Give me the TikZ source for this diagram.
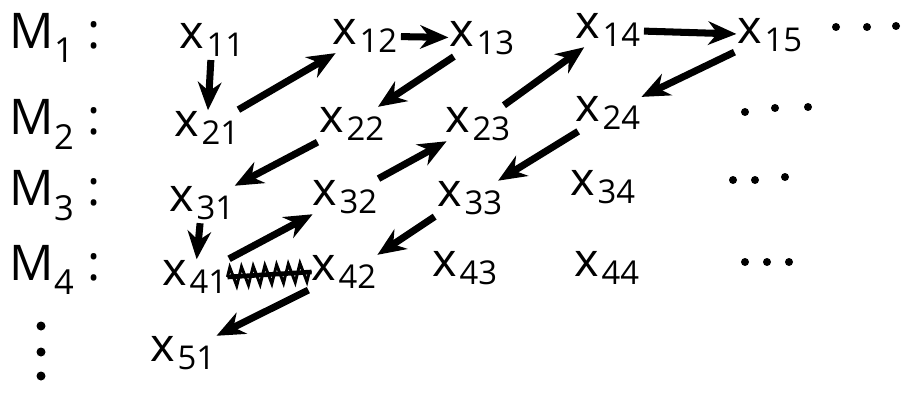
\documentclass[tikz,border=0pt]{standalone}
\usepackage{fontspec}
\setmainfont{Open Sans}
\usetikzlibrary{arrows.meta,decorations.pathmorphing}
\newcommand{\terme}[1]{x\kern2pt\raisebox{-0.3ex}{\fontsize{28}{30}\selectfont #1}}
\begin{document}
\begin{tikzpicture}[x=0.03cm,y=-0.03cm,
    terme/.style={font=\fontsize{40}{44}\selectfont, inner sep=0pt},
    rang/.style={font=\fontsize{42}{46}\selectfont, inner sep=1pt},
    fleche/.style={-{Stealth[length=24pt,width=20pt]}, line width=6pt, shorten >=1pt, shorten <=3pt}]
    \useasboundingbox (0,0) rectangle (915,394);

    % Etiquettes des lignes
    \node[rang] (m1) at (55,38) {M\textsubscript{1} :};
    \node[rang] (m2) at (55,124) {M\textsubscript{2} :};
    \node[rang] (m3) at (55,196) {M\textsubscript{3} :};
    \node[rang] (m4) at (55,270) {M\textsubscript{4} :};
    \foreach \yy in {326,352,376} {
        \fill (41,\yy) circle (4.5);
    }

    % Termes
    \node[terme] (x11) at (212,40) {\terme{11}};
    \node[terme] (x12) at (365,36) {\terme{12}};
    \node[terme] (x13) at (482,38) {\terme{13}};
    \node[terme] (x14) at (608,30) {\terme{14}};
    \node[terme] (x15) at (770,35) {\terme{15}};
    \node[terme] (x21) at (207,128) {\terme{21}};
    \node[terme] (x22) at (352,124) {\terme{22}};
    \node[terme] (x23) at (478,124) {\terme{23}};
    \node[terme] (x24) at (608,113) {\terme{24}};
    \node[terme] (x31) at (202,203) {\terme{31}};
    \node[terme] (x32) at (345,197) {\terme{32}};
    \node[terme] (x33) at (470,198) {\terme{33}};
    \node[terme] (x34) at (603,187) {\terme{34}};
    \node[terme] (x41) at (195,277) {\terme{41}};
    \node[terme] (x42) at (344,272) {\terme{42}};
    \node[terme] (x43) at (465,268) {\terme{43}};
    \node[terme] (x44) at (607,268) {\terme{44}};
    \node[terme] (x51) at (183,353) {\terme{51}};

    % Points de suspension
    \foreach \xx/\yy in {836/27,867/27,896/26, 745/112,775/108,808/107,
                         733/180,755/180,785/177, 745/262,767/262,789/262} {
        \fill (\xx,\yy) circle (4);
    }

    % Fleches
    \draw[fleche] (x11) -- (x21);
    \draw[fleche] (x21) -- (x12);
    \draw[fleche] (x12) -- (x13);
    \draw[fleche] (x13) -- (x22);
    \draw[fleche] (x22) -- (x31);
    \draw[fleche] (x31) -- (x41);
    \draw[fleche] (x41) -- (x32);
    \draw[fleche] (x32) -- (x23);
    \draw[fleche] (x23) -- (x14);
    \draw[fleche] (x14) -- (x15);
    \draw[fleche] (x15) -- (x24);
    \draw[fleche] (x24) -- (x33);
    \draw[fleche] (x33.south west) -- (x42.north east);
    \draw[fleche] (x42.south west) -- (x51.north east);

    % Fleche barree
    \draw[line width=4pt] (x41.east) -- (x42.west);
    \draw[line width=2.5pt, decorate, decoration={zigzag, amplitude=8pt, segment length=10pt}]
        (x41.east) -- (x42.west);
\end{tikzpicture}
\end{document}
